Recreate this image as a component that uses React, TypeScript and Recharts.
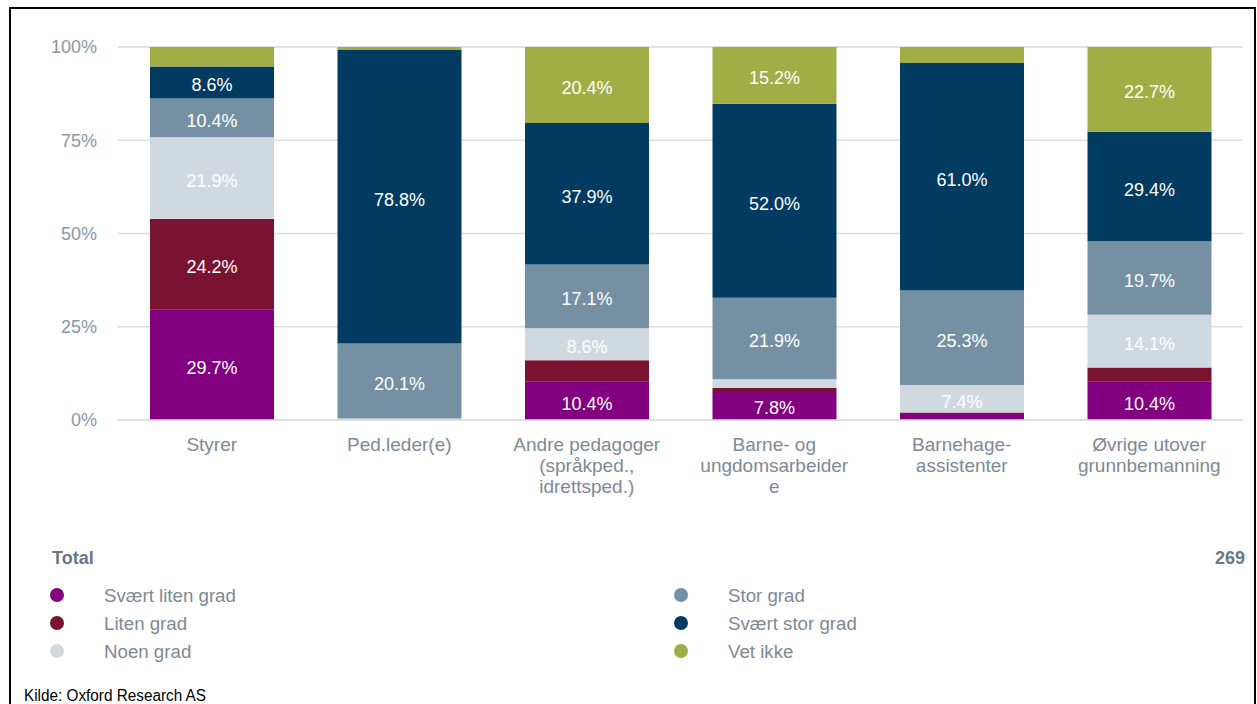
import React from 'react';
import { BarChart, Bar, XAxis, YAxis, CartesianGrid, LabelList } from 'recharts';

const categories = [
  'Styrer',
  'Ped.leder(e)',
  'Andre pedagoger\n(språkped.,\nidrettsped.)',
  'Barne- og\nungdomsarbeider\ne',
  'Barnehage-\nassistenter',
  'Øvrige utover\ngrunnbemanning',
];
const svaertLiten = [29.7, 0, 10.4, 7.8, 1.6, 10.4];
const liten = [24.2, 0, 5.6, 0.8, 0.4, 3.7];
const noen = [21.9, 0.4, 8.6, 2.3, 7.4, 14.1];
const stor = [10.4, 20.1, 17.1, 21.9, 25.3, 19.7];
const svaertStor = [8.6, 78.8, 37.9, 52.0, 61.0, 29.4];
const vetIkke = [5.2, 0.7, 20.4, 15.2, 4.3, 22.7];

const seriesKeys = ['svaertLiten', 'liten', 'noen', 'stor', 'svaertStor', 'vetIkke'];
const seriesNames = ['Svært liten grad', 'Liten grad', 'Noen grad', 'Stor grad', 'Svært stor grad', 'Vet ikke'];
const seriesColors = ['#820080', '#7a1331', '#d1d9e0', '#7590a2', '#023b62', '#a1ae45'];
const seriesValues = [svaertLiten, liten, noen, stor, svaertStor, vetIkke];

const yTicks = [0, 25, 50, 75, 100];
const totalLabel = 'Total';
const totalN = '269';
const sourceText = 'Kilde: Oxford Research AS';

const data = categories.map((name, i) => {
  const row: Record<string, any> = { name };
  seriesKeys.forEach((k, j) => {
    row[k] = seriesValues[j][i];
  });
  return row;
});

const FONT = '"Liberation Sans", Arial, sans-serif';

const CatTick = (props: any) => {
  const { x, y, payload } = props;
  const lines = String(payload.value).split('\n');
  return (
    <text x={x} y={y + 23} textAnchor="middle" fill="#7d8a94" fontSize={19} fontFamily={FONT}>
      {lines.map((l, i) => (
        <tspan key={i} x={x} dy={i === 0 ? 0 : 21}>
          {l}
        </tspan>
      ))}
    </text>
  );
};

const renderLabel = (props: any) => {
  const { x, y, width, height, value } = props;
  if (value == null || value < 6.5) return null;
  return (
    <text
      x={x + width / 2}
      y={y + height / 2 + 3}
      textAnchor="middle"
      dominantBaseline="central"
      fill="#ffffff"
      fontSize={18}
      fontFamily={FONT}
    >
      {`${Number(value).toFixed(1)}%`}
    </text>
  );
};

export default function App() {
  const legendCols = [
    { markerX: 57, textX: 104 },
    { markerX: 681, textX: 728 },
  ];
  const rowY = [595, 623, 651];
  return (
    <div
      style={{
        position: 'fixed',
        left: 0,
        top: 0,
        width: 1257,
        height: 704,
        overflow: 'hidden',
        background: '#ffffff',
      }}
    >
      <div style={{ position: 'absolute', left: 0, top: 0 }}>
        <BarChart
          width={1257}
          height={530}
          data={data}
          margin={{ top: 47, right: 14, bottom: 30, left: 48 }}
          barSize={124}
        >
          <CartesianGrid vertical={false} stroke="#dedede" strokeWidth={1.5} />
          <XAxis
            dataKey="name"
            axisLine={{ stroke: '#dcdcdc', strokeWidth: 1.5 }}
            tickLine={false}
            tick={<CatTick />}
            height={80}
            interval={0}
          />
          <YAxis
            domain={[0, 100]}
            ticks={yTicks}
            width={70}
            axisLine={false}
            tickLine={false}
            tickMargin={15}
            tickFormatter={(v: number) => `${v}%`}
            tick={{ fill: '#8a98a4', fontSize: 18, fontFamily: FONT }}
          />
          {seriesKeys.map((k, j) => (
            <Bar
              key={k}
              dataKey={k}
              name={seriesNames[j]}
              stackId="a"
              fill={seriesColors[j]}
              isAnimationActive={false}
            >
              <LabelList dataKey={k} content={renderLabel} />
            </Bar>
          ))}
        </BarChart>
      </div>
      <svg
        width={1257}
        height={704}
        style={{ position: 'absolute', left: 0, top: 0, pointerEvents: 'none' }}
      >
        <text x={52} y={564} fontSize={18} fontWeight="bold" fill="#6b7884" fontFamily={FONT}>
          {totalLabel}
        </text>
        <text x={1245} y={564} fontSize={18} fontWeight="bold" fill="#6b7884" fontFamily={FONT} textAnchor="end">
          {totalN}
        </text>
        {seriesNames.map((n, j) => {
          const col = legendCols[Math.floor(j / 3)];
          const cy = rowY[j % 3];
          return (
            <g key={n}>
              <circle cx={col.markerX} cy={cy} r={7} fill={seriesColors[j]} />
              <text x={col.textX} y={cy + 6.5} fontSize={18.7} fill="#7d8a94" fontFamily={FONT}>
                {n}
              </text>
            </g>
          );
        })}
        <text
          x={24}
          y={701}
          fontSize={16}
          fill="#000000"
          fontFamily={FONT}
          textLength={182}
          lengthAdjust="spacingAndGlyphs"
        >
          {sourceText}
        </text>
      </svg>
      <div
        style={{
          position: 'absolute',
          left: 9,
          top: 7,
          width: 1243,
          height: 760,
          border: '2px solid #000000',
          pointerEvents: 'none',
        }}
      />
    </div>
  );
}
